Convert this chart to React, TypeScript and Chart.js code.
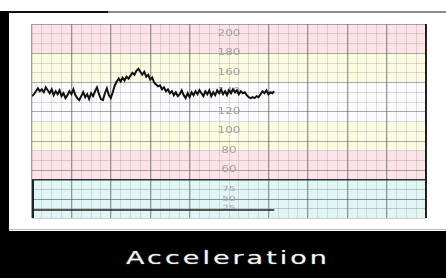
import React, { useEffect, useRef } from "react";
import { Chart, registerables } from "chart.js";

Chart.register(...registerables);

// FHR trace (bpm), sampled every half time-unit from the left edge of the grid
const fhrValues = [
  136, 138, 141, 144, 141, 143, 140, 145, 142, 139,
  143, 137, 141, 138, 142, 136, 139, 134, 137, 141,
  138, 143, 137, 134, 132, 136, 140, 135, 138, 133,
  139, 136, 141, 145, 138, 133, 132, 139, 144, 137,
  134, 140, 147, 151, 154, 151, 155, 152, 156, 154,
  157, 160, 158, 162, 164, 161, 158, 161, 156, 158,
  153, 155, 150, 148, 146, 147, 143, 145, 141, 143,
  139, 141, 137, 140, 136, 138, 142, 137, 134, 139,
  135, 140, 137, 141, 138, 142, 139, 136, 141, 138,
  142, 136, 140, 137, 142, 139, 143, 138, 141, 137,
  142, 139, 143, 140, 142, 138, 141, 139, 140, 137,
  135, 134, 135, 134, 136, 135, 138, 141, 139, 142,
  138, 140, 139, 141,
];
const fhrSampleStep = 0.5;

// Uterine activity trace
const ucTimes = [0, 10, 20, 30, 40, 50, 61.5];
const ucValues = [21, 21, 21, 21, 21, 21, 21];

// Printed scale labels
const fhrLabels = [200, 180, 160, 140, 120, 100, 80, 60];
const ucLabels = [75, 50, 25];
const labelColumnX = 50;

const caption = "Acceleration";

// Paper zones (bpm)
const PINK = "#fce3e8";
const YELLOW = "#fafbe0";
const WHITE = "#fbfaff";
const CYAN = "#dff6f5";
const fhrZones = [
  { from: 180, to: 210, color: PINK },
  { from: 150, to: 180, color: YELLOW },
  { from: 110, to: 150, color: WHITE },
  { from: 80, to: 110, color: YELLOW },
  { from: 50, to: 80, color: PINK },
];

function zonesPlugin(zones: { from: number; to: number; color: string }[], labels: number[], font: string, leftThick: boolean) {
  return {
    id: "paper",
    beforeDraw(chart: any) {
      const { ctx, chartArea, scales } = chart;
      const y = scales.y;
      ctx.save();
      for (const z of zones) {
        const top = y.getPixelForValue(z.to);
        const bot = y.getPixelForValue(z.from);
        ctx.fillStyle = z.color;
        ctx.fillRect(chartArea.left, top, chartArea.right - chartArea.left, bot - top);
      }
      ctx.restore();
    },
    beforeDatasetsDraw(chart: any) {
      const { ctx, scales } = chart;
      const x = scales.x.getPixelForValue(labelColumnX);
      ctx.save();
      ctx.fillStyle = "#a0a0a0";
      ctx.font = font;
      ctx.textAlign = "center";
      ctx.textBaseline = "middle";
      for (const v of labels) {
        const py = scales.y.getPixelForValue(v);
        ctx.save();
        ctx.translate(x, py);
        ctx.scale(1.5, 1);
        ctx.fillText(String(v), 0, 0);
        ctx.restore();
      }
      ctx.restore();
    },
    afterDraw(chart: any) {
      const { ctx, chartArea } = chart;
      ctx.save();
      ctx.strokeStyle = "#222";
      ctx.lineWidth = 2;
      ctx.beginPath();
      ctx.moveTo(chartArea.right, chartArea.top);
      ctx.lineTo(chartArea.right, chartArea.bottom);
      ctx.stroke();
      if (leftThick) {
        ctx.beginPath();
        ctx.moveTo(chartArea.left + 1, chartArea.top);
        ctx.lineTo(chartArea.left + 1, chartArea.bottom);
        ctx.stroke();
      }
      ctx.restore();
    },
  };
}

const xScale = {
  type: "linear",
  min: 0,
  max: 100,
  ticks: { display: false, stepSize: 2.5, maxTicksLimit: 1000 },
  border: { display: false },
  grid: {
    drawTicks: false,
    color: (c: any) => {
      const v = c.tick ? c.tick.value : 0;
      if (v === labelColumnX) return "rgba(150,150,150,0.3)";
      return v % 10 === 0 ? "rgba(90,90,90,0.6)" : "rgba(150,150,150,0.3)";
    },
    lineWidth: (c: any) => {
      const v = c.tick ? c.tick.value : 0;
      return v % 10 === 0 && v !== labelColumnX ? 1.3 : 1;
    },
  },
};

export default function App() {
  const fhrRef = useRef<HTMLCanvasElement>(null);
  const ucRef = useRef<HTMLCanvasElement>(null);

  useEffect(() => {
    const fhrChart = new Chart(fhrRef.current as HTMLCanvasElement, {
      type: "line",
      data: {
        datasets: [
          {
            data: fhrValues.map((v, i) => ({ x: i * fhrSampleStep, y: v })),
            borderColor: "#111",
            borderWidth: 2,
            pointRadius: 0,
            tension: 0,
          },
        ],
      },
      options: {
        animation: false,
        responsive: false,
        maintainAspectRatio: false,
        layout: { padding: 4 },
        plugins: { legend: { display: false }, tooltip: { enabled: false } },
        scales: {
          x: xScale as any,
          y: {
            type: "linear",
            min: 50,
            max: 210,
            ticks: { display: false, stepSize: 10, maxTicksLimit: 1000 },
            border: { display: false },
            grid: {
              drawTicks: false,
              color: (c: any) => {
                const v = c.tick ? c.tick.value : 0;
                if (v === 50) return "rgba(40,40,40,0.9)";
                return v % 30 === 0 ? "rgba(90,90,90,0.5)" : "rgba(140,140,140,0.3)";
              },
            },
          },
        },
      },
      plugins: [zonesPlugin(fhrZones, fhrLabels, '8px "DejaVu Sans"', false)],
    } as any);

    const ucChart = new Chart(ucRef.current as HTMLCanvasElement, {
      type: "line",
      data: {
        datasets: [
          {
            data: ucTimes.map((t, i) => ({ x: t, y: ucValues[i] })),
            borderColor: "#222",
            borderWidth: 1.5,
            pointRadius: 0,
            tension: 0,
          },
        ],
      },
      options: {
        animation: false,
        responsive: false,
        maintainAspectRatio: false,
        layout: { padding: 4 },
        plugins: { legend: { display: false }, tooltip: { enabled: false } },
        scales: {
          x: xScale as any,
          y: {
            type: "linear",
            min: 0,
            max: 100,
            ticks: { display: false, stepSize: 25, maxTicksLimit: 1000 },
            border: { display: false },
            grid: {
              drawTicks: false,
              color: (c: any) => {
                const v = c.tick ? c.tick.value : 0;
                if (v === 100) return "rgba(30,30,30,0.9)";
                return v === 50 ? "rgba(80,80,80,0.6)" : "rgba(130,130,130,0.4)";
              },
              lineWidth: (c: any) => (c.tick && c.tick.value === 100 ? 1.6 : 1),
            },
          },
        },
      },
      plugins: [zonesPlugin([{ from: 0, to: 100, color: CYAN }], ucLabels, '7px "DejaVu Sans"', true)],
    } as any);

    return () => {
      fhrChart.destroy();
      ucChart.destroy();
    };
  }, []);

  return (
    <div
      style={{
        position: "fixed",
        left: 0,
        top: 0,
        width: 446,
        height: 278,
        background: "#ffffff",
        overflow: "hidden",
      }}
    >
      <div style={{ position: "absolute", left: 0, top: 11, width: 9, height: 220, background: "#000" }} />
      <div style={{ position: "absolute", left: 7, top: 11, width: 101, height: 2, background: "#111" }} />
      <div style={{ position: "absolute", left: 108, top: 11, width: 338, height: 2, background: "#8a8a8a" }} />
      <div style={{ position: "absolute", left: 9, top: 229, width: 437, height: 1, background: "#bdbdbd" }} />
      <canvas
        ref={fhrRef}
        width={402}
        height={164}
        style={{ position: "absolute", left: 28, top: 20, width: 402, height: 164 }}
      />
      <canvas
        ref={ucRef}
        width={402}
        height={46}
        style={{ position: "absolute", left: 28, top: 176, width: 402, height: 46 }}
      />
      <div style={{ position: "absolute", left: 0, top: 231, width: 446, height: 47, background: "#000" }}>
        <span
          style={{
            position: "absolute",
            left: 228,
            top: 18,
            transform: "translateX(-50%) scaleX(1.5)",
            color: "#f4f4f4",
            fontFamily: '"DejaVu Sans", sans-serif',
            fontSize: 18,
            lineHeight: "18px",
            letterSpacing: 2,
            whiteSpace: "nowrap",
            textShadow: "0 0 1px rgba(255,255,255,0.6)",
          }}
        >
          {caption}
        </span>
      </div>
    </div>
  );
}
